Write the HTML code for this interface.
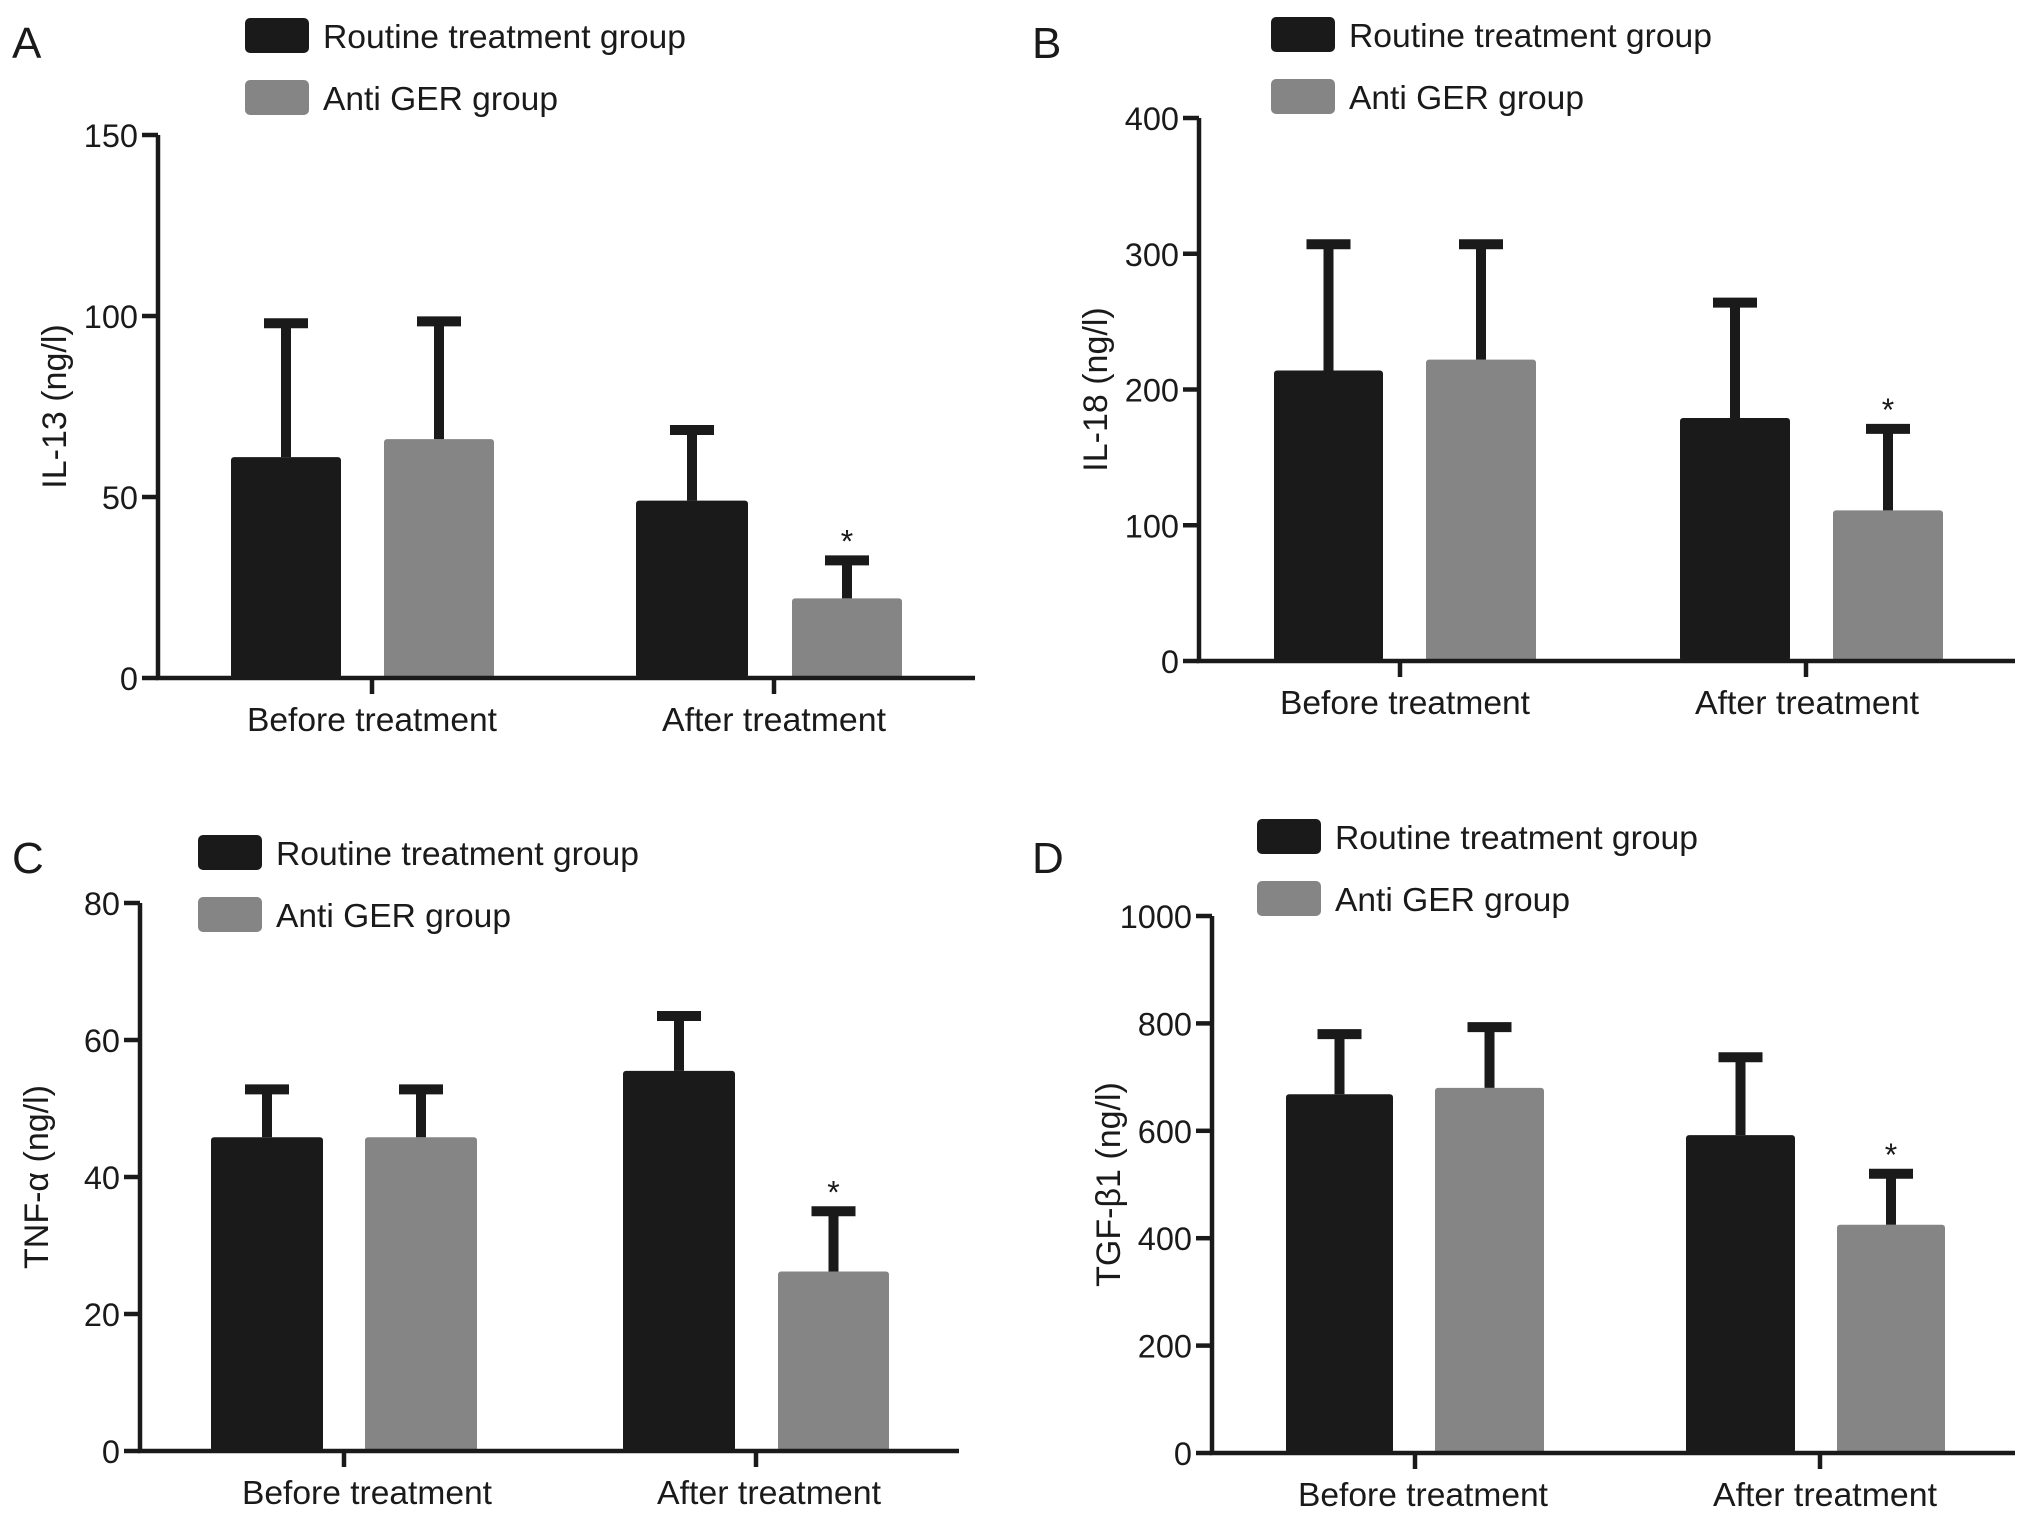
<!DOCTYPE html>
<html><head><meta charset="utf-8"><style>
html,body{margin:0;padding:0;background:#fff}
svg{display:block}
text{font-family:"Liberation Sans",sans-serif;fill:#1a1a1a}
</style></head><body>
<svg id="fig" width="2032" height="1525" viewBox="0 0 2032 1525" xmlns="http://www.w3.org/2000/svg"></svg>
<script>
const groups = ["Before treatment", "After treatment"];
const seriesNames = ["Routine treatment group", "Anti GER group"];
const aMeans = [[61, 66], [49, 22]];
const aErr = [[98, 98.5], [68.5, 32.5]];
const aTicks = [0, 50, 100, 150];
const bMeans = [[214, 222], [179, 111]];
const bErr = [[307, 307], [264, 171]];
const bTicks = [0, 100, 200, 300, 400];
const cMeans = [[45.8, 45.8], [55.5, 26.2]];
const cErr = [[52.8, 52.8], [63.5, 35]];
const cTicks = [0, 20, 40, 60, 80];
const dMeans = [[668, 680], [592, 425]];
const dErr = [[780, 793], [737, 520]];
const dTicks = [0, 200, 400, 600, 800, 1000];
const sigFlags = [[false, false], [false, true]];

const NS = "http://www.w3.org/2000/svg";
const svg = document.getElementById("fig");
function mk(tag, attrs, parent) {
  const e = document.createElementNS(NS, tag);
  for (const k in attrs) e.setAttribute(k, attrs[k]);
  (parent || svg).appendChild(e);
  return e;
}
const colors = ["#1a1a1a", "#858585"];

const panels = [
  {id:"a", letter:"A", lx:12, ly:58, ax:158, top:135, zero:678, right:975, ylabel:"IL-13 (ng/l)", means:aMeans, err:aErr, ticks:aTicks,
   bars:[[231,341],[384,494],[636,748],[792,902]], gx:[372,774], lblx:[372,774], legX:245, legY:18},
  {id:"b", letter:"B", lx:1032, ly:58, ax:1199, top:118, zero:661, right:2015, ylabel:"IL-18 (ng/l)", means:bMeans, err:bErr, ticks:bTicks,
   bars:[[1274,1383],[1426,1536],[1680,1790],[1833,1943]], gx:[1400,1806], lblx:[1405,1807], legX:1271, legY:17},
  {id:"c", letter:"C", lx:12, ly:873, ax:140, top:903, zero:1451, right:959, ylabel:"TNF-α (ng/l)", means:cMeans, err:cErr, ticks:cTicks,
   bars:[[211,323],[365,477],[623,735],[778,889]], gx:[344,756], lblx:[367,769], legX:198, legY:835},
  {id:"d", letter:"D", lx:1032, ly:873, ax:1212, top:916, zero:1453, right:2015, ylabel:"TGF-β1 (ng/l)", means:dMeans, err:dErr, ticks:dTicks,
   bars:[[1286,1393],[1435,1544],[1686,1795],[1837,1945]], gx:[1415,1820], lblx:[1423,1825], legX:1257, legY:819}
];

panels.forEach(p => {
  const g = mk("g", {});
  
  
  const maxV = p.ticks[p.ticks.length - 1];
  const y = v => p.zero - (v / maxV) * (p.zero - p.top);

  const L = mk("text", {x:p.lx, y:p.ly, "font-size":44}, g);
  L.textContent = p.letter;
  
  

  seriesNames.forEach((s, i) => {
    const r = mk("rect", {x:p.legX, y:p.legY + i*62, width:64, height:35, rx:5, fill:colors[i]}, g);
    
    
    const t = mk("text", {x:p.legX + 78, y:p.legY + i*62 + 30, "font-size":33.5, textLength: i===0?363:235, lengthAdjust:"spacingAndGlyphs"}, g);
    t.textContent = s;
    
    
  });

  let k = 0;
  groups.forEach((gname, gi) => {
    [0, 1].forEach(si => {
      const [x0, x1] = p.bars[k++];
      const m = p.means[gi][si], e = p.err[gi][si];
      const bar = mk("rect", {x:x0, y:y(m), width:x1-x0, height:p.zero - y(m), rx:3, fill:colors[si]}, g);
      
      
      const cx = (x0 + x1) / 2;
      const eb = mk("path", {d:`M${cx},${y(m)} V${y(e)} M${cx-22},${y(e)} H${cx+22}`, stroke:"#1a1a1a", "stroke-width":10, fill:"none"}, g);
      
      
      if (sigFlags[gi][si]) {
        const st = mk("text", {x:cx, y:y(e) - 8, "font-size":32, "text-anchor":"middle"}, g);
        st.textContent = "*";
        
        
      }
    });
  });

  const axes = mk("path", {d:`M${p.ax},${p.top} V${p.zero} H${p.right}`, stroke:"#1a1a1a", "stroke-width":4.5, fill:"none"}, g);
  
  
  p.ticks.forEach(tv => {
    const tk = mk("line", {x1:p.ax - 16, x2:p.ax, y1:y(tv), y2:y(tv), stroke:"#1a1a1a", "stroke-width":4.5}, g);
    
    
    const tl = mk("text", {x:p.ax - 20, y:y(tv) + 12, "font-size":32.5, "text-anchor":"end"}, g);
    tl.textContent = tv;
    
    
  });
  groups.forEach((gname, gi) => {
    const tk = mk("line", {x1:p.gx[gi], x2:p.gx[gi], y1:p.zero, y2:p.zero + 16, stroke:"#1a1a1a", "stroke-width":4.5}, g);
    
    
    const tl = mk("text", {x:p.lblx[gi], y:p.zero + 53, "font-size":33.5, "text-anchor":"middle", textLength: gi===0?250:224, lengthAdjust:"spacingAndGlyphs"}, g);
    tl.textContent = gname;
    
    
  });
  const yl = mk("text", {x:0, y:0, "font-size":34, "text-anchor":"middle", transform:`translate(${p.ax - 92},${(p.top + p.zero)/2}) rotate(-90)`}, g);
  yl.textContent = p.ylabel;
  
  
});
</script>
</body></html>
